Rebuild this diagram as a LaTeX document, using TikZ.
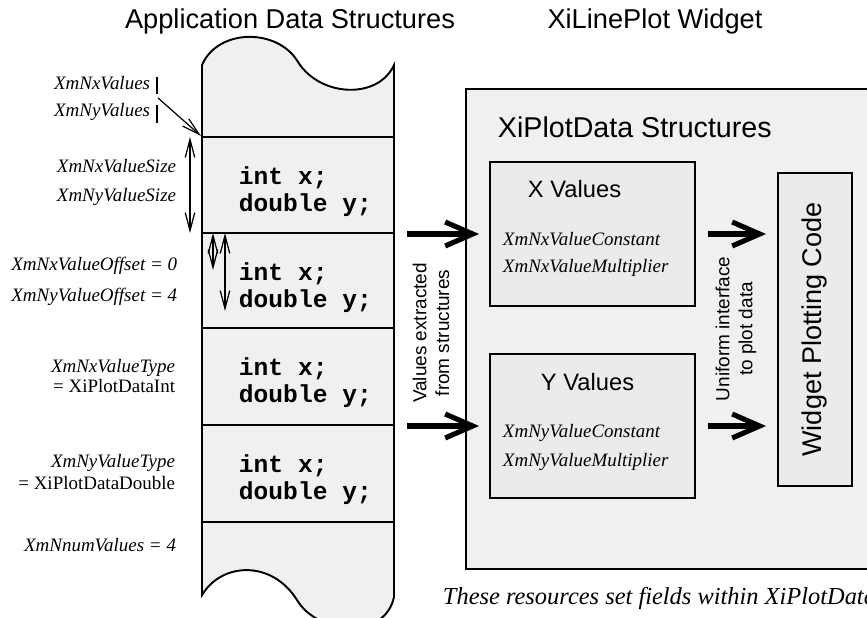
\documentclass[tikz,border=0pt]{standalone}
\usepackage{fontspec}
\setmainfont{Liberation Sans}
\newfontfamily\tms{Liberation Serif}
\newfontfamily\crr{Liberation Mono}
\usetikzlibrary{arrows.meta}
\tikzset{box/.style = {rectangle, draw=black, line width=1.1pt,
                       fill=black!8, inner sep=0pt}}

\begin{document}
\begin{tikzpicture}[x=0.02cm, y=-0.02cm, line width=1.1pt,
  res/.style = {font=\tms\itshape\fontsize{10.8}{12}\selectfont, inner sep=0pt},
  code/.style = {font=\crr\bfseries\fontsize{14}{16}\selectfont, anchor=base west, inner sep=0pt},
  head/.style = {font=\fontsize{15.5}{18}\selectfont, inner sep=0pt},
  side/.style = {rotate=90, align=center, font=\fontsize{10.8}{13}\selectfont},
  dim/.style = {{Straight Barb[length=3.6mm,width=1.9mm]}-{Straight Barb[length=3.6mm,width=1.9mm]}, line width=0.7pt},
  feed/.style = {-{Straight Barb[length=5.5mm,width=4.8mm]}, line width=2.9pt}]
\useasboundingbox (0,0) rectangle (867,618);
\clip (0,0) rectangle (867,618);

% headings
\node[head, anchor=base] (apphead) at (290,29) {Application Data Structures};
\node[head, anchor=base] (widhead) at (655,29) {XiLinePlot Widget};

% application data (tape)
\draw[fill=black!6] (202,65) .. controls (218,28) and (278,28) .. (298,62)
  .. controls (320,97) and (378,100) .. (394,65) -- (394,597)
  .. controls (385,640) and (318,635) .. (297,600)
  .. controls (272,560) and (222,562) .. (202,595) -- cycle;
\foreach \t in {137,233,328,425,522} \draw (202,\t) -- (394,\t);
\foreach \t [count=\i] in {137,233,328,425} {
  \node[code] (int\i) at (238,\t+48) {int x;};
  \node[code] (dbl\i) at (238,\t+75) {double y;};
}

% resources on the left
\node[res, anchor=base east] (nxval) at (151,90) {XmNxValues};
\node[res, anchor=base east] (nyval) at (151,117) {XmNyValues};
\coordinate (bar1a) at (157,77);  \coordinate (bar1b) at (157,94);
\coordinate (bar2a) at (157,105); \coordinate (bar2b) at (157,123);
\draw[line width=0.7pt] (bar1a) -- (bar1b) (bar2a) -- (bar2b);
\coordinate (valfrom) at (158,98);
\coordinate (tapestart) at (201,136);
\draw[line width=0.7pt, -{Straight Barb[length=3.6mm,width=1.9mm]}] (valfrom) -- (tapestart);

\node[res, anchor=base east] (nxsize) at (177,173) {XmNxValueSize};
\node[res, anchor=base east] (nysize) at (177,202) {XmNyValueSize};
\coordinate (sizetop) at (190,137); \coordinate (sizebot) at (190,233);
\draw[dim] (sizetop) -- (sizebot);

\node[res, anchor=base east] (nxoff) at (178,271) {XmNxValueOffset = 0};
\node[res, anchor=base east] (nyoff) at (178,302) {XmNyValueOffset = 4};
\coordinate (xofftop) at (213,233); \coordinate (xoffbot) at (213,270);
\coordinate (yofftop) at (225,233); \coordinate (yoffbot) at (225,311);
\draw[dim] (xofftop) -- (xoffbot);
\draw[dim] (yofftop) -- (yoffbot);

\node[res, anchor=base east] (nxtype) at (176,373) {XmNxValueType};
\node[res, anchor=base east] (nxint) at (176,393) {\upshape = XiPlotDataInt};
\node[res, anchor=base east] (nytype) at (176,468) {XmNyValueType};
\node[res, anchor=base east] (nydbl) at (176,490) {\upshape = XiPlotDataDouble};
\node[res, anchor=base east] (nnum) at (177,552) {XmNnumValues = 4};

% widget
\draw[box, fill=black!6] (466,89) rectangle (910,569);
\node[anchor=base west, inner sep=0pt, font=\fontsize{16.3}{19}\selectfont] (pdhead) at (497,138) {XiPlotData Structures};

\node[box, minimum width=4.1cm, minimum height=2.88cm] (xval) at (592.5,234) {};
\node[anchor=base west, inner sep=0pt, font=\fontsize{13.5}{16}\selectfont] (xhead) at (527,198) {X Values};
\node[res, anchor=base west] (xconst) at (502,246) {XmNxValueConstant};
\node[res, anchor=base west] (xmult) at (502,273) {XmNxValueMultiplier};

\node[box, minimum width=4.1cm, minimum height=2.88cm] (yval) at (592.5,426) {};
\node[anchor=base west, inner sep=0pt, font=\fontsize{13.5}{16}\selectfont] (yhead) at (540,391) {Y Values};
\node[res, anchor=base west] (yconst) at (502,438) {XmNyValueConstant};
\node[res, anchor=base west] (ymult) at (502,467) {XmNyValueMultiplier};

\node[box, minimum width=1.48cm, minimum height=6.26cm, font=\fontsize{15.4}{18}\selectfont] (plot) at (815,329.5) {\rotatebox{90}{Widget Plotting Code}};

% data flow
\coordinate (tapex) at (394,234);
\coordinate (tapey) at (394,426);
\draw[feed, shorten <=2.6mm, shorten >=2mm] (tapex) -- (xval.west);
\draw[feed, shorten <=2.6mm, shorten >=2mm] (tapey) -- (yval.west);
\draw[feed, shorten <=2.4mm, shorten >=2.2mm] (xval.east) -- (plot.west |- xval.east);
\draw[feed, shorten <=2.4mm, shorten >=2.2mm] (yval.east) -- (plot.west |- yval.east);
\node[side] (extract) at (431,333) {Values extracted\\from structures};
\node[side] (uniform) at (736,329) {Uniform interface\\to plot data};

\node[font=\tms\itshape\fontsize{13.9}{16}\selectfont, anchor=base west, inner sep=0pt] (note) at (442,605) {These resources set fields within XiPlotData};
\end{tikzpicture}
\end{document}
